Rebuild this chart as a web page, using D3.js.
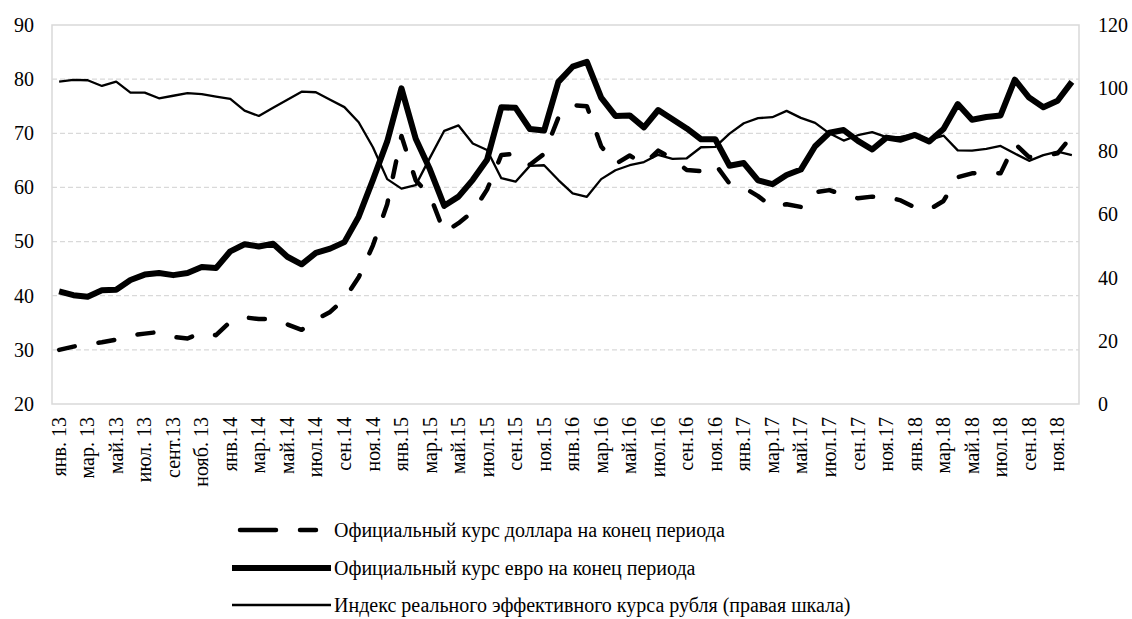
<!DOCTYPE html>
<html>
<head>
<meta charset="utf-8">
<script src="https://cdn.jsdelivr.net/npm/d3@7"></script>
<style>
  html, body { margin: 0; padding: 0; background: #fff; }
  svg { display: block; }
  text { font-family: "Liberation Serif", "Times New Roman", serif; fill: #000; }
</style>
</head>
<body>
<svg id="chart" width="1132" height="619"></svg>
<script>
// months Jan 2013 .. Dec 2018
const years = ["13", "14", "15", "16", "17", "18"];
const monthNames = ["янв", "фев", "мар", "апр", "май", "июн", "июл", "авг", "сен", "окт", "ноя", "дек"];
const categories = years.flatMap(y => monthNames.map(m => m + "." + y));

// every second month is labelled
const tickLabels = [
  "янв. 13", "мар. 13", "май.13", "июл. 13", "сент.13", "нояб. 13",
  "янв.14", "мар.14", "май.14", "июл.14", "сен.14", "ноя.14",
  "янв.15", "мар.15", "май.15", "июл.15", "сен.15", "ноя.15",
  "янв.16", "мар.16", "май.16", "июл.16", "сен.16", "ноя.16",
  "янв.17", "мар.17", "май.17", "июл.17", "сен.17", "ноя.17",
  "янв.18", "мар.18", "май.18", "июл.18", "сен.18", "ноя.18"
];

// official USD rate, end of period (left axis)
const usdRate = [
  30.0, 30.6, 31.1, 31.4, 31.9, 32.7, 33.0, 33.3, 32.4, 32.1, 33.2, 32.7,
  35.2, 36.0, 35.7, 35.7, 34.7, 33.7, 35.6, 37.0, 39.4, 43.4, 49.3, 56.9,
  69.5, 61.3, 58.5, 51.7, 53.4, 55.5, 59.6, 66.0, 66.2, 64.2, 66.2, 72.9,
  75.2, 75.0, 67.6, 64.3, 65.9, 64.3, 66.8, 65.3, 63.2, 63.0, 64.3, 60.7,
  60.0, 58.4, 56.4, 56.9, 56.4, 59.1, 59.5, 58.6, 58.0, 58.3, 58.3, 57.6,
  56.3, 55.9, 57.5, 61.9, 62.6, 62.8, 62.6, 68.1, 65.6, 65.8, 66.3, 69.5
];

// official EUR rate, end of period (left axis)
const eurRate = [
  40.8, 40.1, 39.8, 41.0, 41.1, 42.9, 43.9, 44.2, 43.8, 44.2, 45.3, 45.1,
  48.2, 49.5, 49.1, 49.6, 47.2, 45.8, 47.9, 48.7, 49.9, 54.6, 61.4, 68.5,
  78.3, 69.0, 63.3, 56.6, 58.3, 61.4, 65.1, 74.8, 74.7, 70.8, 70.5, 79.5,
  82.3, 83.2, 76.6, 73.2, 73.3, 71.1, 74.3, 72.6, 70.9, 68.9, 68.9, 64.0,
  64.5, 61.3, 60.6, 62.3, 63.3, 67.6, 70.1, 70.6, 68.6, 67.0, 69.2, 68.8,
  69.7, 68.5, 70.8, 75.4, 72.5, 73.0, 73.3, 79.9, 76.6, 74.8, 76.0, 79.5
];

// real effective exchange rate index (right axis)
const reerIndex = [
  102.1, 102.6, 102.5, 100.7, 102.1, 98.6, 98.6, 96.8, 97.6, 98.4, 98.1, 97.3,
  96.6, 92.9, 91.2, 93.8, 96.3, 98.9, 98.7, 96.3, 94.0, 89.2, 81.3, 71.2,
  68.2, 69.3, 78.0, 86.5, 88.2, 82.5, 80.4, 71.5, 70.4, 75.4, 75.6, 70.9,
  66.7, 65.6, 71.2, 74.0, 75.6, 76.6, 78.9, 77.6, 77.8, 81.3, 81.4, 85.6,
  88.9, 90.5, 90.8, 92.8, 90.6, 89.0, 85.7, 83.4, 85.1, 86.1, 84.5, 84.6,
  85.5, 83.6, 85.0, 80.3, 80.2, 80.8, 81.7, 79.3, 77.0, 78.8, 79.9, 78.8
];

const leftTicks = [20, 30, 40, 50, 60, 70, 80, 90];
const rightTicks = [0, 20, 40, 60, 80, 100, 120];

const legendItems = [
  { label: "Официальный курс доллара на конец периода", key: "usd" },
  { label: "Официальный курс евро на конец периода", key: "eur" },
  { label: "Индекс реального эффективного курса рубля (правая шкала)", key: "reer" }
];

const styles = {
  usd: { width: 4.5, dash: "16,24" },
  eur: { width: 6, dash: null },
  reer: { width: 2.3, dash: null }
};

const plot = { left: 52, right: 1079, top: 25, bottom: 404 };
const fontSize = 20;

const svg = d3.select("#chart");

const x = d3.scaleBand().domain(categories).range([plot.left, plot.right]);
const yLeft = d3.scaleLinear().domain([20, 90]).range([plot.bottom, plot.top]);
const yRight = d3.scaleLinear().domain([0, 120]).range([plot.bottom, plot.top]);
const cx = c => x(c) + x.bandwidth() / 2;

// gridlines (dashed)
svg.append("g")
  .selectAll("line")
  .data(leftTicks.filter(t => t > 20 && t < 90))
  .join("line")
  .attr("x1", plot.left)
  .attr("x2", plot.right)
  .attr("y1", d => yLeft(d))
  .attr("y2", d => yLeft(d))
  .attr("stroke", "#d9d9d9")
  .attr("stroke-width", 1.3)
  .attr("stroke-dasharray", "5,3");

// plot frame
svg.append("rect")
  .attr("x", plot.left)
  .attr("y", plot.top)
  .attr("width", plot.right - plot.left)
  .attr("height", plot.bottom - plot.top)
  .attr("fill", "none")
  .attr("stroke", "#d9d9d9")
  .attr("stroke-width", 1.5);

// left axis
const leftAxis = svg.append("g")
  .attr("transform", `translate(${plot.left},0)`)
  .call(d3.axisLeft(yLeft).tickValues(leftTicks).tickSize(0).tickPadding(18));
leftAxis.select(".domain").remove();
leftAxis.selectAll("text").style("font-size", fontSize + "px").style("font-family", null);

// right axis
const rightAxis = svg.append("g")
  .attr("transform", `translate(${plot.right},0)`)
  .call(d3.axisRight(yRight).tickValues(rightTicks).tickSize(0).tickPadding(19));
rightAxis.select(".domain").remove();
rightAxis.selectAll("text").style("font-size", fontSize + "px").style("font-family", null);

// x labels, rotated
const labelled = categories.filter((c, i) => i % 2 === 0);
svg.append("g")
  .selectAll("text")
  .data(labelled)
  .join("text")
  .attr("transform", d => `translate(${cx(d)},${plot.bottom + 13}) rotate(-90)`)
  .attr("text-anchor", "end")
  .attr("dy", "0.33em")
  .style("font-size", fontSize + "px")
  .text((d, i) => tickLabels[i]);

// series
const series = [
  { key: "usd", values: usdRate, y: yLeft },
  { key: "eur", values: eurRate, y: yLeft },
  { key: "reer", values: reerIndex, y: yRight }
];

series.forEach(s => {
  const line = d3.line()
    .x((d, i) => cx(categories[i]))
    .y(d => s.y(d));
  svg.append("path")
    .datum(s.values)
    .attr("fill", "none")
    .attr("stroke", "#000")
    .attr("stroke-width", styles[s.key].width)
    .attr("stroke-linejoin", "round")
    .attr("stroke-linecap", styles[s.key].dash ? "round" : "butt")
    .attr("stroke-dasharray", styles[s.key].dash)
    .attr("d", line);
});

// legend
const legendRows = [530, 568, 605];
const legend = svg.append("g");
legendItems.forEach((item, i) => {
  const st = styles[item.key];
  const y = legendRows[i];
  legend.append("line")
    .attr("x1", item.key === "usd" ? 240 : 232)
    .attr("x2", item.key === "usd" ? 320 : 331)
    .attr("y1", y)
    .attr("y2", y)
    .attr("stroke", "#000")
    .attr("stroke-width", st.width)
    .attr("stroke-linecap", st.dash ? "round" : "butt")
    .attr("stroke-dasharray", st.dash ? "36,24,16,24" : null);
  legend.append("text")
    .attr("x", 334)
    .attr("y", y)
    .attr("dy", "0.33em")
    .style("font-size", fontSize + "px")
    .text(item.label);
});
</script>
</body>
</html>
